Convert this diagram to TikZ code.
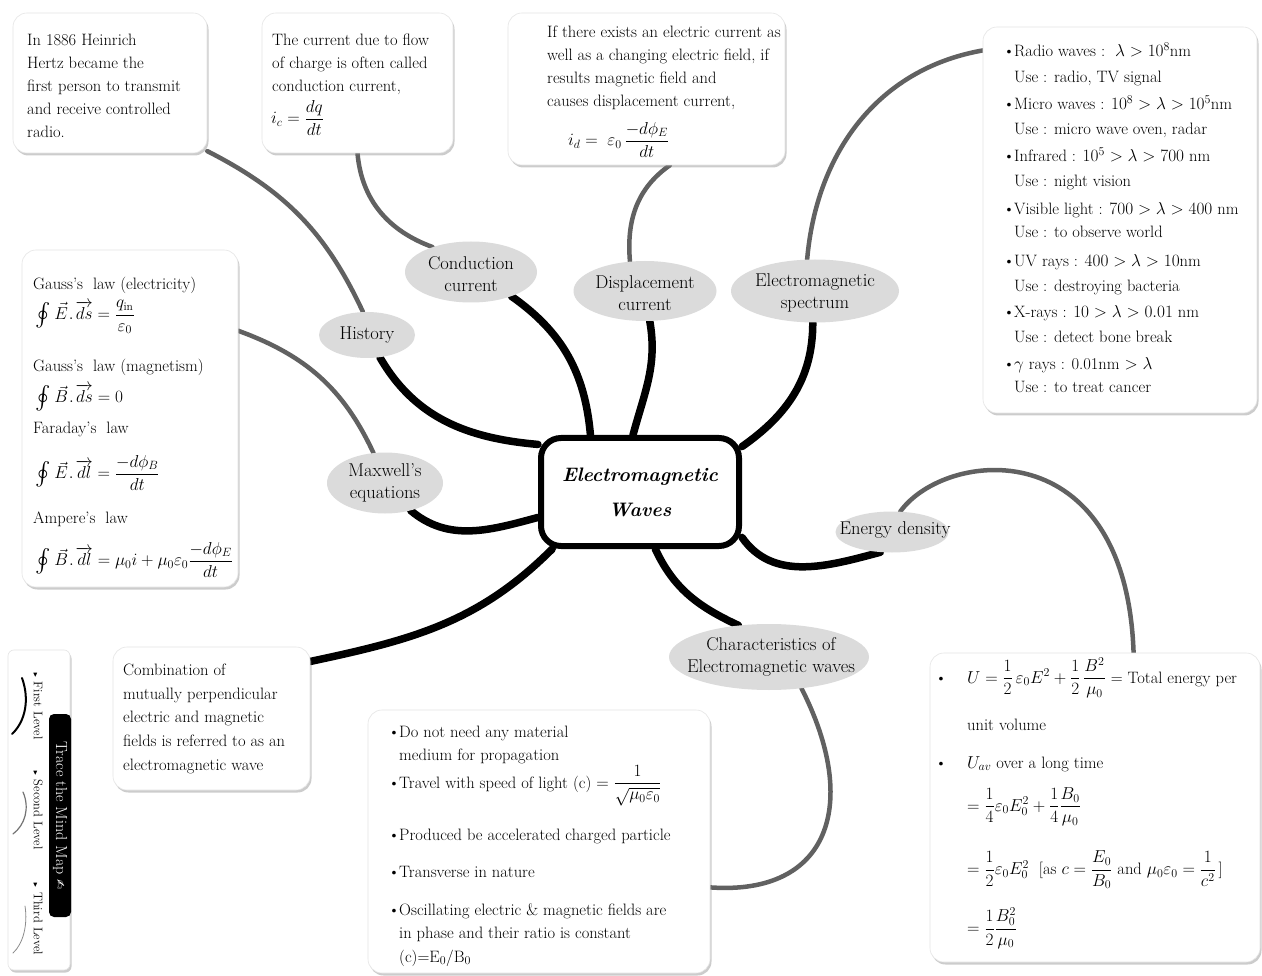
\documentclass[tikz,border=0pt]{standalone}
\usepackage{amsmath,amssymb,graphicx}
\usepackage{fontspec}
\newfontfamily\dejavu{DejaVu Sans}
\usetikzlibrary{shapes.geometric,shadows}
\pgfdeclarelayer{bg}
\pgfsetlayers{bg,main}
\tikzset{
  box/.style={fill=white, draw=black!10, line width=0.6pt, rounded corners=14pt,
    drop shadow={shadow xshift=1.5pt, shadow yshift=-2.5pt, fill=black!50, opacity=0.4},
    inner sep=0pt},
  bub/.style={ellipse, fill=black!14, inner sep=0pt},
  bubtxt/.style={align=center, inner sep=0pt, font=\fontsize{18.5}{21.5}\selectfont},
  txt/.style={align=left, inner sep=0pt, font=\fontsize{16.5}{23}\selectfont},
  lineA/.style={line width=7.5pt, line cap=round, black},
  lineB/.style={line width=4.5pt, line cap=round, black!62},
  legtxt/.style={inner sep=0pt, rotate=-90, font=\fontsize{12.5}{14}\selectfont},
}
\newcommand{\bul}{\makebox[11pt][l]{\textbullet}}
\newcommand{\tri}{{\fontsize{6}{6}\selectfont$\blacktriangleright$}\ }
\newcommand{\cint}{\mathord{\vcenter{\hbox{\scalebox{1.4}{$\oint$}}}}\mkern4mu}
\newcommand{\vdot}[2]{\vec{#1}\mkern1mu.\mkern2mu\overrightarrow{#2}}
\begin{document}
\begin{tikzpicture}[x=1pt,y=1pt]
\begin{pgfonlayer}{bg}
\fill[white] (0,0) rectangle (1262,-976);
\end{pgfonlayer}
\path[use as bounding box] (0,0) rectangle (1262,-976);

% ---------- boxes ----------
\node[box, minimum width=194pt, minimum height=140pt] (histb) at (110,-83) {};
\node[box, minimum width=191pt, minimum height=140pt] (condb) at (357.5,-83) {};
\node[box, minimum width=277pt, minimum height=152pt] (dispb) at (646.5,-89) {};
\node[box, minimum width=274pt, minimum height=386pt] (specb) at (1120,-220) {};
\node[box, minimum width=216pt, minimum height=337pt] (maxb) at (130,-418.5) {};
\node[box, minimum width=197pt, minimum height=143pt] (combb) at (211.5,-718.5) {};
\node[box, minimum width=342pt, minimum height=263pt] (chb) at (539,-841.5) {};
\node[box, minimum width=330pt, minimum height=309pt] (enb) at (1095,-807.5) {};
\node[box, minimum width=62pt, minimum height=320pt, rounded corners=6pt] (legb) at (39,-810) {};

% ---------- box texts ----------
\node[txt, anchor=north west] (histt) at (27,-33.5) {In 1886 Heinrich\\Hertz became the\\first person to transmit\\and receive controlled\\radio.};

\node[txt, anchor=north west] (condt) at (272,-33.5) {The current due to flow\\of charge is often called\\conduction current,};
\node[txt, anchor=west] (condf) at (271,-118) {$i_{c} = \dfrac{dq}{dt}$};

\node[txt, anchor=north west] (dispt) at (547,-25.5) {If there exists an electric current as\\well as a changing electric field, if\\results magnetic field and\\causes displacement current,};
\node[txt, anchor=west] (dispf) at (568,-140) {$i_{d} = \;\varepsilon_0\,\dfrac{-d\phi_{E}}{dt}$};

\node[txt, anchor=base west] (s1) at (1003,-57) {\bul Radio waves :\ \ $\lambda > 10^8$nm};
\node[txt, anchor=base west] (s2) at (1014,-83) {Use : radio, TV signal};
\node[txt, anchor=base west] (s3) at (1003,-110) {\bul Micro waves : $10^8 > \lambda > 10^5$nm};
\node[txt, anchor=base west] (s4) at (1014,-135) {Use : micro wave oven, radar};
\node[txt, anchor=base west] (s5) at (1003,-162) {\bul Infrared : $10^5 > \lambda > 700$ nm};
\node[txt, anchor=base west] (s6) at (1014,-187) {Use : night vision};
\node[txt, anchor=base west] (s7) at (1003,-215) {\bul Visible light : $700 > \lambda > 400$ nm};
\node[txt, anchor=base west] (s8) at (1014,-238) {Use : to observe world};
\node[txt, anchor=base west] (s9) at (1003,-267) {\bul UV rays : $400 > \lambda > 10$nm};
\node[txt, anchor=base west] (s10) at (1014,-292) {Use : destroying bacteria};
\node[txt, anchor=base west] (s11) at (1003,-318) {\bul X-rays : $10 > \lambda > 0.01$ nm};
\node[txt, anchor=base west] (s12) at (1014,-343) {Use : detect bone break};
\node[txt, anchor=base west] (s13) at (1003,-370) {\bul $\gamma$ rays : 0.01nm $> \lambda$};
\node[txt, anchor=base west] (s14) at (1014,-393) {Use : to treat cancer};

\node[txt, anchor=base west] (m1) at (33,-290) {Gauss’s\ \ law (electricity)};
\node[txt, anchor=west] (m2) at (35,-317) {$\cint \vdot{E}{ds} = \dfrac{q_{\mathrm{in}}}{\varepsilon_0}$};
\node[txt, anchor=base west] (m3) at (33,-372) {Gauss’s\ \ law (magnetism)};
\node[txt, anchor=west] (m4) at (35,-398) {$\cint \vdot{B}{ds} = 0$};
\node[txt, anchor=base west] (m5) at (33,-433) {Faraday’s\ \ law};
\node[txt, anchor=west] (m6) at (35,-473) {$\cint \vdot{E}{dl} = \dfrac{-d\phi_{B}}{dt}$};
\node[txt, anchor=base west] (m7) at (33,-523) {Ampere’s\ \ law};
\node[txt, anchor=west] (m8) at (35,-560) {$\cint \vdot{B}{dl} = \mu_0 i + \mu_0\varepsilon_0 \dfrac{-d\phi_{E}}{dt}$};

\node[txt, anchor=north west, font=\fontsize{16.5}{23.75}\selectfont] (combt) at (123,-663.5) {Combination of\\mutually perpendicular\\electric and magnetic\\fields is referred to as an\\electromagnetic wave};

\node[txt, anchor=base west] (c1) at (388,-737) {\bul Do not need any material};
\node[txt, anchor=base west] (c2) at (399,-760) {medium for propagation};
\node[txt, anchor=base west] (c3) at (388,-788) {\bul Travel with speed of light (c) $=\dfrac{1}{\sqrt{\mu_0\varepsilon_0}}$};
\node[txt, anchor=base west] (c4) at (388,-840) {\bul Produced be accelerated charged particle};
\node[txt, anchor=base west] (c5) at (388,-877) {\bul Transverse in nature};
\node[txt, anchor=base west] (c6) at (388,-915) {\bul Oscillating electric \& magnetic fields are};
\node[txt, anchor=base west] (c7) at (399,-938) {in phase and their ratio is constant};
\node[txt, anchor=base west] (c8) at (399,-962) {(c)=E$_0$/B$_0$};

\node[txt, anchor=base west] (e1) at (935,-683) {\makebox[32pt][l]{\textbullet}$U = \dfrac12\,\varepsilon_0 E^2 + \dfrac12\,\dfrac{B^2}{\mu_0}$ = Total energy per};
\node[txt, anchor=base west] (e2) at (967,-730) {unit volume};
\node[txt, anchor=base west] (e3) at (935,-768) {\makebox[32pt][l]{\textbullet}$U_{av}$ over a long time};
\node[txt, anchor=west] (e4) at (967,-807) {$= \dfrac14\varepsilon_0 E_0^2 + \dfrac14\dfrac{B_0}{\mu_0}$};
\node[txt, anchor=west] (e5) at (967,-870) {$= \dfrac12\varepsilon_0 E_0^2$\ \ [as $c = \dfrac{E_0}{B_0}$ and $\mu_0\varepsilon_0 = \dfrac{1}{c^2}$\,]};
\node[txt, anchor=west] (e6) at (967,-928) {$= \dfrac12\dfrac{B_0^2}{\mu_0}$};

% ---------- legend ----------
\node[legtxt] (lg1) at (38,-706) {\tri First Level};
\node[legtxt] (lg2) at (38,-810) {\tri Second Level};
\node[legtxt] (lg3) at (38,-919) {\tri Third Level};
\node[fill=black, rounded corners=5pt, rotate=-90, text=white, inner sep=0pt,
      minimum width=203pt, minimum height=22pt, font=\fontsize{16}{18}\selectfont]
      (lgt) at (60,-815.5) {Trace the Mind Map {\dejavu\fontsize{12}{12}\selectfont ✍}};
\draw[line width=2pt, line cap=round] (22,-678) .. controls (30,-700) and (25,-722) .. (12,-734);
\draw[line width=1.2pt, line cap=round, black!55] (23,-792) .. controls (30,-808) and (25,-825) .. (13,-834);
\draw[line width=0.8pt, line cap=round, black!45] (25,-906) .. controls (28,-925) and (23,-944) .. (13,-953);

% ---------- bubbles ----------
\node[bub, minimum width=96pt, minimum height=46pt] (histe) at (367,-335) {};
\node[bubtxt] (histet) at (367,-335) {History};
\node[bub, minimum width=132pt, minimum height=61pt] (conde) at (471,-272) {};
\node[bubtxt] (condet) at (471,-274) {Conduction\\current};
\node[bub, minimum width=143pt, minimum height=60pt] (dispe) at (645,-291) {};
\node[bubtxt] (dispet) at (645,-293) {Displacement\\current};
\node[bub, minimum width=168pt, minimum height=63pt] (spece) at (815,-291) {};
\node[bubtxt] (specet) at (815,-293) {Electromagnetic\\spectrum};
\node[bub, minimum width=116pt, minimum height=61pt] (maxe) at (385,-483) {};
\node[bubtxt] (maxet) at (385,-483) {Maxwell's\\equations};
\node[bub, minimum width=113pt, minimum height=41pt] (enee) at (892,-532) {};
\node[bubtxt] (eneet) at (895,-530) {Energy density};
\node[bub, minimum width=200pt, minimum height=66pt] (chare) at (769,-657) {};
\node[bubtxt] (charet) at (771,-657) {Characteristics of\\Electromagnetic waves};

% ---------- centre ----------
\node[draw=black, line width=6pt, rounded corners=20pt, fill=white, minimum width=198pt,
      minimum height=108pt, inner sep=0pt, align=center,
      font=\fontsize{19.5}{35}\selectfont\bfseries\itshape] (ctr) at (640,-492) {Electromagnetic\\Waves};

% ---------- connectors ----------
\begin{pgfonlayer}{bg}
\draw[lineA] (histe.-60) to[out=-60, in=175] (ctr.155);
\draw[lineA] (conde.-31) to[out=-35, in=95] (ctr.131);
\draw[lineA] (dispe.-81) to[out=-80, in=75] (ctr.97);
\draw[lineA] (spece.-94) to[out=-90, in=35] (ctr.24);
\draw[lineA] (maxe.-47) to[out=-40, in=195] (ctr.194);
\draw[lineA] (ctr.213) to[out=225, in=12] (combb.30);
\draw[lineA] (ctr.-24) to[out=-55, in=195] (enee.-120);
\draw[lineA] (ctr.-75) to[out=-65, in=155] (chare.134);
\draw[lineB] (histe.100) to[out=115, in=-27] (histb.-35);
\draw[lineB] (conde.147) to[out=160, in=-85] (condb.south);
\draw[lineB] (maxe.111) to[out=115, in=-20] (maxb.39);
\draw[lineB] (dispe.117) to[out=95, in=215] (dispb.-73);
\draw[lineB] (spece.104) to[out=85, in=190] (specb.129);
\draw[lineB] (enee.68) to[out=54, in=92, out distance=77pt, in distance=223pt] (enb.76);
\draw[lineB] (chare.-44) to[out=-63, in=-4, out distance=129pt, in distance=120pt] (chb.-15);
\end{pgfonlayer}
\end{tikzpicture}
\end{document}
